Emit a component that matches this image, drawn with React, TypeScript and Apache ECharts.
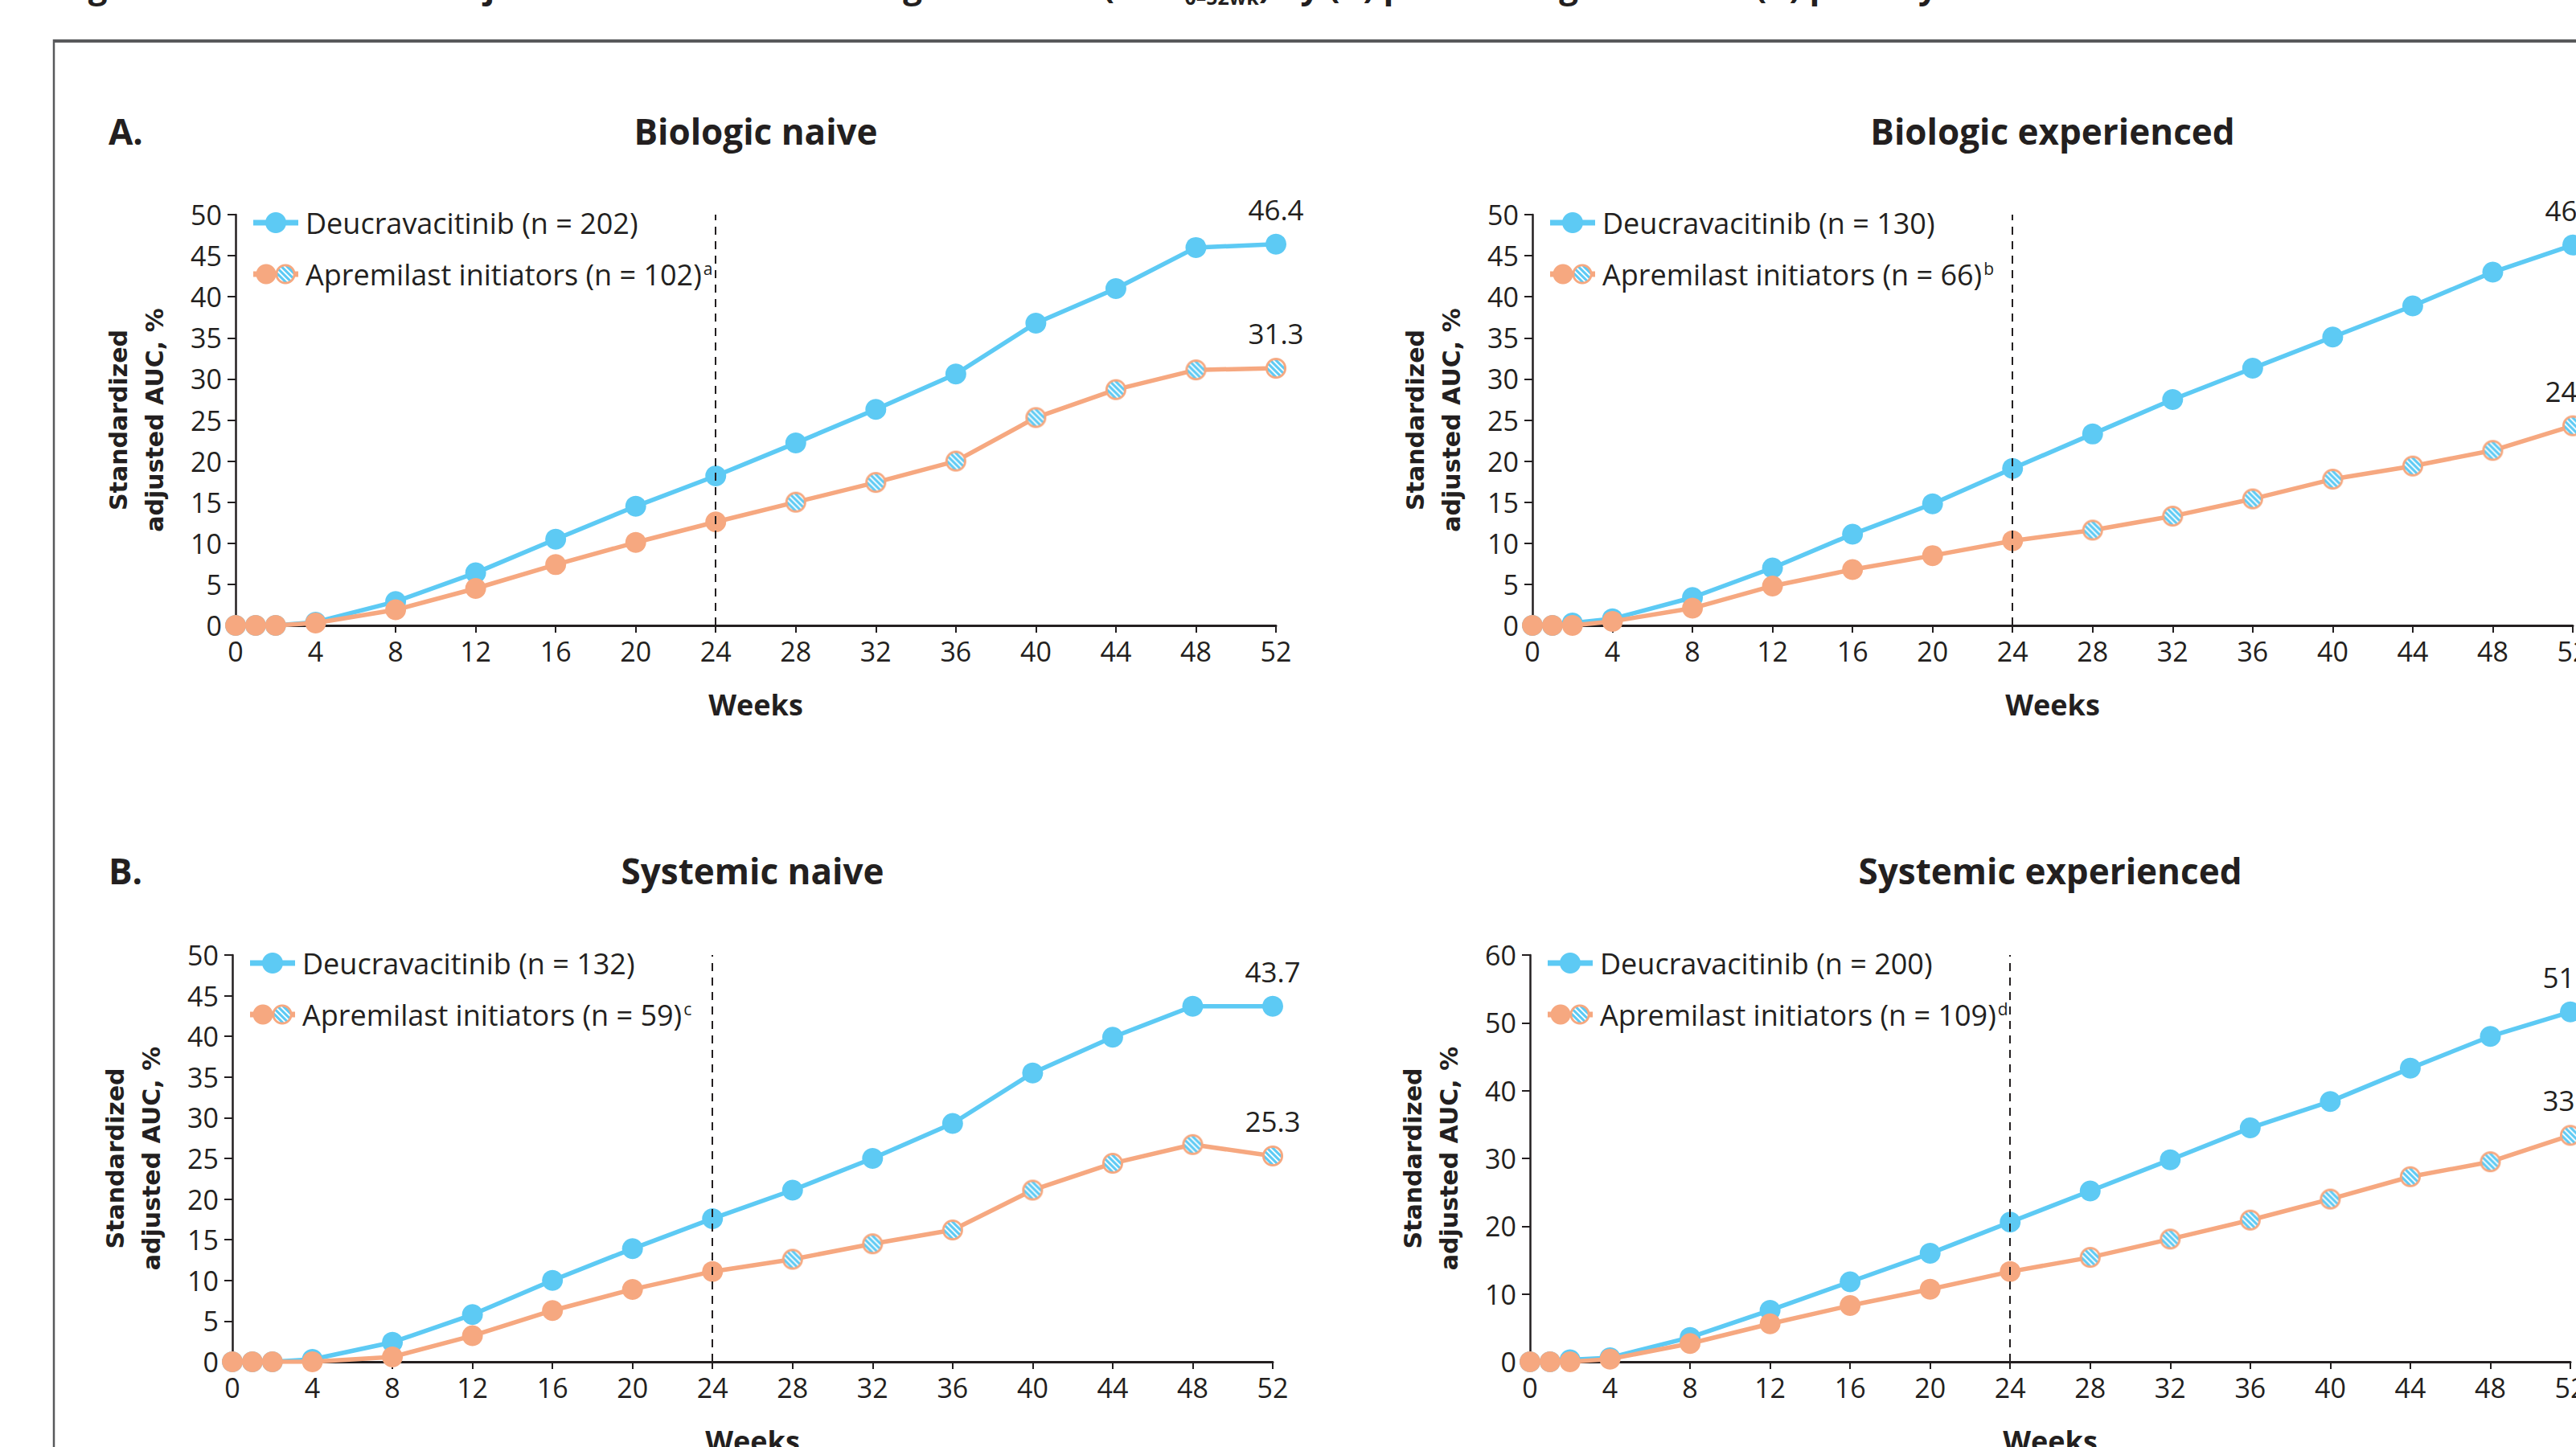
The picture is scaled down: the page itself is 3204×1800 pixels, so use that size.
import React, { useEffect, useRef } from "react";
import * as echarts from "echarts";

// ---------- data ----------
const WEEKS = [0, 1, 2, 4, 8, 12, 16, 20, 24, 28, 32, 36, 40, 44, 48, 52];
const HATCH_FROM_WEEK = 28;
const TREATMENT_BREAK_WEEK = 24;

const PANEL_TITLES = ["Biologic naive", "Biologic experienced", "Systemic naive", "Systemic experienced"];
const PANEL_LETTERS = ["A.", "B."];
const DEUCRA_NAMES = [
  "Deucravacitinib (n = 202)",
  "Deucravacitinib (n = 130)",
  "Deucravacitinib (n = 132)",
  "Deucravacitinib (n = 200)",
];
const APREM_NAMES = [
  "Apremilast initiators (n = 102)",
  "Apremilast initiators (n = 66)",
  "Apremilast initiators (n = 59)",
  "Apremilast initiators (n = 109)",
];
const APREM_NOTES = ["a", "b", "c", "d"];
const Y_MAX = [50, 50, 50, 60];
const Y_STEP = [5, 5, 5, 10];
const X_NAME = "Weeks";
const Y_NAME = "Standardized\nadjusted AUC, %";
const MAIN_TITLE_A = "Figure 3. Standardized adjusted PASI 75 AUC through Week 52 (AUC";
const MAIN_TITLE_SUB = "0–52wk";
const MAIN_TITLE_B = ") by (A) prior biologic use and (B) prior systemic use";

const DEUCRA_BIO_NAIVE = [0, 0, 0, 0.4, 2.9, 6.4, 10.5, 14.5, 18.2, 22.2, 26.3, 30.6, 36.8, 41.0, 46.0, 46.4];
const APREM_BIO_NAIVE = [0, 0, 0, 0.3, 1.9, 4.5, 7.4, 10.1, 12.6, 15.0, 17.4, 20.0, 25.3, 28.7, 31.1, 31.3];
const DEUCRA_BIO_EXP = [0, 0, 0.3, 0.8, 3.4, 7.0, 11.1, 14.8, 19.1, 23.3, 27.5, 31.3, 35.1, 38.9, 43.0, 46.3];
const APREM_BIO_EXP = [0, 0, 0, 0.5, 2.1, 4.8, 6.8, 8.5, 10.3, 11.6, 13.3, 15.4, 17.8, 19.4, 21.3, 24.3];
const DEUCRA_SYS_NAIVE = [0, 0, 0, 0.3, 2.4, 5.8, 10.0, 13.9, 17.6, 21.1, 25.0, 29.3, 35.5, 39.9, 43.7, 43.7];
const APREM_SYS_NAIVE = [0, 0, 0, 0, 0.6, 3.2, 6.3, 8.9, 11.1, 12.6, 14.5, 16.2, 21.1, 24.4, 26.7, 25.3];
const DEUCRA_SYS_EXP = [0, 0, 0.3, 0.6, 3.6, 7.6, 11.8, 16.0, 20.6, 25.2, 29.8, 34.5, 38.4, 43.3, 48.0, 51.6];
const APREM_SYS_EXP = [0, 0, 0, 0.4, 2.7, 5.6, 8.3, 10.7, 13.3, 15.4, 18.1, 20.9, 24.0, 27.3, 29.5, 33.4];

const DEUCRA_SERIES = [DEUCRA_BIO_NAIVE, DEUCRA_BIO_EXP, DEUCRA_SYS_NAIVE, DEUCRA_SYS_EXP];
const APREM_SERIES = [APREM_BIO_NAIVE, APREM_BIO_EXP, APREM_SYS_NAIVE, APREM_SYS_EXP];

// ---------- layout & style ----------
const GRIDS = [
  { left: 293, top: 267, width: 1294, height: 511 },
  { left: 1906, top: 267, width: 1294, height: 511 },
  { left: 289, top: 1188, width: 1294, height: 506 },
  { left: 1903, top: 1188, width: 1294, height: 506 },
];
const BLUE = "#5DCAF4";
const ORANGE = "#F6A880";
const INK = "#231F20";
const FRAME = "#58595B";
const FONT = "'Open Sans', 'Noto Sans', sans-serif";
const FONT_BOLD_WIDE = "'DejaVu Sans', Verdana, sans-serif";

function canvasURL(w: number, h: number, draw: (ctx: CanvasRenderingContext2D) => void) {
  const s = 4;
  const c = document.createElement("canvas");
  c.width = w * s;
  c.height = h * s;
  const ctx = c.getContext("2d") as CanvasRenderingContext2D;
  ctx.scale(s, s);
  draw(ctx);
  return c.toDataURL("image/png");
}

function drawHatched(ctx: CanvasRenderingContext2D, cx: number, cy: number, r: number) {
  ctx.save();
  ctx.beginPath();
  ctx.arc(cx, cy, r - 1.3, 0, Math.PI * 2);
  ctx.closePath();
  ctx.fillStyle = "#ffffff";
  ctx.fill();
  ctx.clip();
  ctx.strokeStyle = BLUE;
  ctx.lineWidth = 3.1;
  for (let k = -3 * r; k < 3 * r; k += 7) {
    ctx.beginPath();
    ctx.moveTo(cx + k - r, cy - r);
    ctx.lineTo(cx + k + r, cy + r);
    ctx.stroke();
  }
  ctx.restore();
  ctx.beginPath();
  ctx.arc(cx, cy, r - 1.4, 0, Math.PI * 2);
  ctx.strokeStyle = ORANGE;
  ctx.lineWidth = 2.8;
  ctx.stroke();
}

function measure(text: string, font: string) {
  const c = document.createElement("canvas");
  const ctx = c.getContext("2d") as CanvasRenderingContext2D;
  ctx.font = font;
  return ctx.measureText(text).width;
}

export default function App() {
  const ref = useRef<HTMLDivElement>(null);

  useEffect(() => {
    if (!ref.current) return;
    const chart = echarts.init(ref.current, undefined, { renderer: "svg" });

    const hatchURL = canvasURL(26, 26, (ctx) => drawHatched(ctx, 13, 13, 13));
    const blueIcon = canvasURL(56, 26, (ctx) => {
      ctx.strokeStyle = BLUE;
      ctx.lineWidth = 7;
      ctx.beginPath();
      ctx.moveTo(0, 13);
      ctx.lineTo(56, 13);
      ctx.stroke();
      ctx.fillStyle = BLUE;
      ctx.beginPath();
      ctx.arc(28, 13, 13, 0, Math.PI * 2);
      ctx.fill();
    });
    const orangeIcon = canvasURL(56, 26, (ctx) => {
      ctx.strokeStyle = ORANGE;
      ctx.lineWidth = 7;
      ctx.beginPath();
      ctx.moveTo(0, 13);
      ctx.lineTo(56, 13);
      ctx.stroke();
      ctx.fillStyle = ORANGE;
      ctx.beginPath();
      ctx.arc(16, 13, 12.5, 0, Math.PI * 2);
      ctx.fill();
      drawHatched(ctx, 40, 13, 12.5);
    });

    const last = WEEKS.length - 1;
    const endLabel = (v: number) => ({
      show: true,
      position: "top",
      distance: 13,
      formatter: v.toFixed(1),
      fontSize: 35,
      fontFamily: FONT,
      color: INK,
    });

    const titleFont = `bold 42px ${FONT}`;
    const subFont = `bold 25px ${FONT}`;
    const titleX = 74;
    const wA = measure(MAIN_TITLE_A, titleFont);
    const wSub = measure(MAIN_TITLE_SUB, subFont);

    const option: any = {
      animation: false,
      backgroundColor: "#ffffff",
      textStyle: { fontFamily: FONT, color: INK },
      title: [
        ...PANEL_TITLES.map((t, i) => ({
          text: t,
          left: GRIDS[i].left + GRIDS[i].width / 2,
          top: i < 2 ? 163 : 1083,
          textAlign: "center",
          textVerticalAlign: "middle",
          padding: 0,
          textStyle: { fontFamily: FONT, fontWeight: "bold", fontSize: 44, color: INK },
        })),
        ...PANEL_LETTERS.map((t, i) => ({
          text: t,
          left: 135,
          top: i === 0 ? 163 : 1083,
          textAlign: "left",
          textVerticalAlign: "middle",
          padding: 0,
          textStyle: { fontFamily: FONT, fontWeight: "bold", fontSize: 44, color: INK },
        })),
      ],
      grid: GRIDS.map((g) => ({ ...g, containLabel: false, outerBoundsMode: "none" })),
      legend: GRIDS.map((g, i) => ({
        data: [
          { name: DEUCRA_NAMES[i], icon: "image://" + blueIcon },
          { name: APREM_NAMES[i], icon: "image://" + orangeIcon },
        ],
        orient: "vertical",
        left: g.left + 22,
        top: g.top - 8,
        padding: 0,
        itemWidth: 56,
        itemHeight: 26,
        itemGap: 28,
        selectedMode: false,
        symbolKeepAspect: false,
        formatter: (name: string) => {
          const idx = APREM_NAMES.indexOf(name);
          return idx >= 0 ? `${name}{sup|${APREM_NOTES[idx]}}` : name;
        },
        textStyle: {
          fontFamily: FONT,
          fontSize: 36,
          color: INK,
          padding: [0, 0, 0, 4],
          rich: {
            sup: { fontFamily: FONT, fontSize: 21, color: INK, verticalAlign: "top", padding: [0, 0, 0, 2] },
          },
        },
      })),
      xAxis: GRIDS.map((_, i) => ({
        gridIndex: i,
        type: "value",
        min: 0,
        max: 52,
        interval: 4,
        splitLine: { show: false },
        axisLine: { show: true, onZero: false, lineStyle: { color: INK, width: 3 } },
        axisTick: { show: true, length: 9, lineStyle: { color: INK, width: 2 } },
        axisLabel: { fontSize: 34, fontFamily: FONT, color: INK, margin: 15 },
        name: X_NAME,
        nameLocation: "middle",
        nameGap: 80,
        nameTextStyle: { fontFamily: FONT, fontWeight: "bold", fontSize: 36, color: INK },
      })),
      yAxis: GRIDS.map((_, i) => ({
        gridIndex: i,
        type: "value",
        min: 0,
        max: Y_MAX[i],
        interval: Y_STEP[i],
        splitLine: { show: false },
        axisLine: { show: true, onZero: false, lineStyle: { color: INK, width: 2.5 } },
        axisTick: { show: true, length: 10, lineStyle: { color: INK, width: 2 } },
        axisLabel: { fontSize: 34, fontFamily: FONT, color: INK, margin: 17 },
        name: Y_NAME,
        nameLocation: "middle",
        nameGap: 78,
        nameTextStyle: {
          fontFamily: FONT_BOLD_WIDE,
          fontWeight: "bold",
          fontSize: 30,
          lineHeight: 45,
          color: INK,
          align: "center",
        },
      })),
      series: GRIDS.flatMap((_, i) => {
        const dv = DEUCRA_SERIES[i];
        const av = APREM_SERIES[i];
        return [
          {
            type: "line",
            name: DEUCRA_NAMES[i],
            xAxisIndex: i,
            yAxisIndex: i,
            data: WEEKS.map((w, k) =>
              k === last ? { value: [w, dv[k]], label: endLabel(dv[k]) } : { value: [w, dv[k]] }
            ),
            symbol: "circle",
            symbolSize: 26,
            showAllSymbol: true,
            lineStyle: { color: BLUE, width: 5.5 },
            itemStyle: { color: BLUE },
            emphasis: { disabled: true },
            z: 2,
            markLine: {
              silent: true,
              symbol: ["none", "none"],
              label: { show: false },
              emphasis: { disabled: true },
              lineStyle: { color: INK, type: [10, 8], width: 2 },
              data: [{ xAxis: TREATMENT_BREAK_WEEK }],
            },
          },
          {
            type: "line",
            name: APREM_NAMES[i],
            xAxisIndex: i,
            yAxisIndex: i,
            data: WEEKS.map((w, k) => {
              const item: any = { value: [w, av[k]] };
              if (w >= HATCH_FROM_WEEK) item.symbol = "image://" + hatchURL;
              if (k === last) item.label = endLabel(av[k]);
              return item;
            }),
            symbol: "circle",
            symbolSize: 26,
            showAllSymbol: true,
            lineStyle: { color: ORANGE, width: 5.5 },
            itemStyle: { color: ORANGE },
            emphasis: { disabled: true },
            z: 3,
          },
        ];
      }),
      graphic: [
        {
          type: "line",
          silent: true,
          shape: { x1: 66, y1: 51, x2: 3300, y2: 51 },
          style: { stroke: FRAME, lineWidth: 4 },
        },
        {
          type: "line",
          silent: true,
          shape: { x1: 67, y1: 49, x2: 67, y2: 1900 },
          style: { stroke: FRAME, lineWidth: 2.5 },
        },
        {
          type: "text",
          silent: true,
          x: titleX,
          y: 2,
          style: { text: MAIN_TITLE_A, font: titleFont, fill: INK, align: "left", verticalAlign: "bottom" },
        },
        {
          type: "text",
          silent: true,
          x: titleX + wA,
          y: 8,
          style: { text: MAIN_TITLE_SUB, font: subFont, fill: INK, align: "left", verticalAlign: "bottom" },
        },
        {
          type: "text",
          silent: true,
          x: titleX + wA + wSub,
          y: 2,
          style: { text: MAIN_TITLE_B, font: titleFont, fill: INK, align: "left", verticalAlign: "bottom" },
        },
      ],
    };

    chart.setOption(option);
    return () => chart.dispose();
  }, []);

  return (
    <div
      style={{
        position: "fixed",
        left: 0,
        top: 0,
        width: 3204,
        height: 1800,
        overflow: "hidden",
        background: "#ffffff",
      }}
    >
      <div ref={ref} style={{ width: 3204, height: 1800 }} />
    </div>
  );
}
